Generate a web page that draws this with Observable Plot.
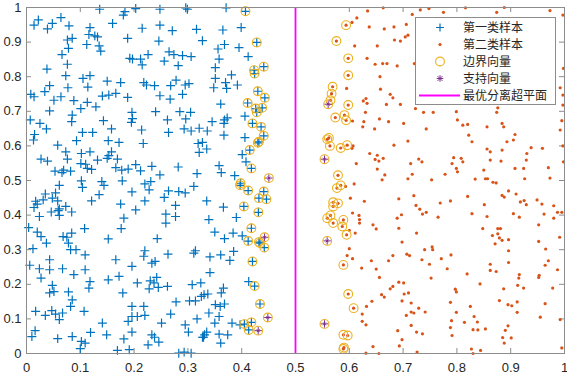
<!DOCTYPE html>
<html><head><meta charset="utf-8">
<script src="https://cdn.jsdelivr.net/npm/d3@7"></script>
<script src="https://cdn.jsdelivr.net/npm/@observablehq/plot@0.6"></script>
<style>
body{margin:0;background:#fff;}
#wrap{position:relative;width:567px;height:375px;overflow:hidden;}
#wrap svg.legend{position:absolute;left:0;top:0;}
</style></head><body><div id="wrap"></div>
<script>
// 第一类样本 (plain samples)
const class1Points = [
[.136,.995],[.183,.988],[.180,.978],[.203,.997],[.248,.995],[.296,.999],[.299,.995],[.022,.964],[.014,.949],[.048,.954],[.039,.938],[.064,.971],[.079,.947],[.118,.942],[.160,.954],[.215,.940],[.248,.949],[.271,.933],[.316,.937],[.076,.906],[.085,.911],[.116,.922],[.127,.918],[.132,.915],[.112,.893],[.188,.911],[.246,.903],[.327,.904],[.135,.889],[.138,.874],[.078,.882],[.066,.864],[.265,.872],[.274,.864],[.290,.861],[.306,.858],[.226,.864],[.192,.853],[.197,.851],[.212,.851],[.215,.834],[.256,.845],[.282,.832],[.076,.836],[.038,.822],[.073,.803],[.118,.803],[.105,.795],[.150,.787],[.175,.783],[.218,.783],[.223,.776],[.238,.774],[.268,.774],[.278,.790],[.295,.776],[.302,.780],[.043,.774],[.077,.768],[.114,.770],[.034,.757],[.008,.749],[.014,.742],[.064,.742],[.051,.732],[.141,.744],[.153,.747],[.166,.752],[.188,.740],[.248,.745],[.267,.735],[.290,.749],[.088,.731],[.113,.726],[.129,.713],[.101,.708],[.043,.701],[.085,.689],[.084,.670],[.196,.697],[.240,.699],[.285,.699],[.305,.697],[.197,.679],[.195,.668],[.262,.675],[.296,.678],[.143,.673],[.007,.675],[.025,.665],[.037,.649],[.158,.649],[.104,.639],[.123,.639],[.214,.646],[.264,.639],[.293,.649],[.306,.643],[.321,.651],[.015,.633],[.013,.617],[.093,.615],[.152,.615],[.172,.610],[.217,.607],[.319,.607],[.327,.610],[.058,.602],[.073,.583],[.102,.578],[.118,.583],[.158,.583],[.153,.572],[.321,.581],[.027,.562],[.039,.556],[.076,.562],[.132,.559],[.150,.564],[.169,.562],[.101,.549],[.110,.547],[.203,.546],[.233,.541],[.282,.539],[.053,.527],[.066,.523],[.069,.530],[.082,.527],[.113,.535],[.121,.532],[.166,.537],[.177,.530],[.189,.533],[.212,.528],[.248,.516],[.317,.520],
[.061,.486],[.102,.499],[.104,.480],[.140,.497],[.144,.486],[.178,.499],[.220,.490],[.231,.497],[.228,.473],[.196,.467],[.264,.470],[.283,.468],[.295,.464],[.311,.483],[.035,.461],[.031,.444],[.054,.464],[.058,.441],[.048,.449],[.017,.440],[.014,.422],[.020,.432],[.135,.459],[.121,.441],[.220,.441],[.256,.451],[.277,.428],[.175,.432],[.073,.425],[.061,.418],[.059,.413],[.046,.409],[.061,.399],[.084,.409],[.024,.396],[.203,.415],[.181,.391],[.259,.403],[.277,.396],[.259,.377],[.004,.364],[.108,.361],[.176,.361],[.020,.351],[.027,.338],[.037,.319],[.068,.338],[.075,.336],[.084,.348],[.078,.319],[.082,.300],[.092,.300],[.152,.331],[.243,.332],[.012,.303],[.109,.285],[.220,.297],[.218,.281],[.263,.287],[.314,.297],[.311,.290],[.043,.271],[.006,.255],[.024,.245],[.043,.242],[.067,.245],[.109,.242],[.166,.271],[.196,.252],[.233,.261],[.239,.266],[.027,.218],[.088,.228],[.118,.208],[.116,.189],[.152,.213],[.172,.223],[.206,.204],[.230,.210],[.242,.220],[.237,.204],[.228,.187],[.245,.191],[.262,.194],[.308,.199],[.324,.204],[.048,.197],[.043,.175],[.051,.179],[.078,.178],[.085,.155],[.082,.136],[.179,.175],[.278,.149],[.303,.152],[.314,.152],[.325,.165],[.017,.122],[.035,.110],[.047,.124],[.054,.114],[.067,.117],[.061,.098],[.107,.122],[.196,.136],[.218,.136],[.196,.107],[.189,.093],[.206,.107],[.220,.110],[.251,.088],[.268,.114],[.317,.100],[.295,.083],[.141,.088],[.016,.066],[.010,.049],[.058,.043],[.085,.049],[.102,.035],[.109,.030],[.100,.014],[.119,.061],[.149,.054],[.181,.042],[.196,.062],[.233,.054],[.238,.047],[.226,.025],[.246,.033],[.301,.062],[.327,.047],[.169,.009],[.191,.011],[.283,.001],[.293,.004],[.306,.001],
[.371,.999],[.365,.935],[.399,.942],[.368,.893],[.356,.880],[.395,.884],[.412,.858],[.358,.851],[.351,.826],[.381,.805],[.351,.795],[.370,.783],[.392,.776],[.348,.768],[.372,.766],[.361,.721],[.406,.686],[.373,.681],[.368,.675],[.345,.670],[.367,.665],[.336,.643],[.367,.631],[.406,.624],[.335,.591],[.401,.575],[.408,.554],[.358,.543],[.362,.523],[.387,.514],
[.335,.441],[.366,.423],[.339,.387],[.390,.393],[.350,.351],[.384,.348],[.401,.340],[.368,.332],[.385,.295],[.361,.285],[.341,.279],[.378,.269],[.341,.234],[.413,.208],[.366,.189],[.362,.175],[.330,.170],[.337,.172],[.351,.141],[.368,.143],[.360,.136],[.339,.117],[.358,.107],[.350,.088],[.382,.088],[.397,.083],[.335,.062],[.331,.054],[.329,.047],[.358,.056],[.374,.054],[.361,.030]
];
// 第一类样本中的边界向量
const class1Boundary = [
[.407,.989],[.428,.899],[.441,.829],[.423,.819],[.424,.809],[.430,.758],[.443,.739],[.411,.724],[.426,.708],[.438,.710],[.428,.697],[.420,.665],[.436,.655],[.441,.629],[.432,.612],[.430,.609],[.415,.588],[.418,.535],[.398,.492],[.397,.486],[.412,.471],[.441,.468],[.432,.449],[.446,.446],[.404,.425],[.431,.408],[.418,.362],[.412,.325],[.432,.322],[.434,.319],[.442,.306],[.420,.266],[.424,.195],[.434,.143],[.405,.085],[.418,.090],[.413,.068]
];
// 第二类样本 (plain samples)
const class2Points = [
[.634,.990],[.614,.970],[.605,.957],[.637,.944],[.665,.938],[.610,.889],[.652,.889],[.633,.853],[.648,.836],[.662,.838],[.657,.800],[.595,.766],[.658,.764],[.631,.737],[.626,.730],[.633,.723],[.630,.697],[.656,.678],[.606,.672],[.627,.670],[.625,.655],[.647,.649],[.607,.600],[.605,.593],[.638,.578],[.652,.573],[.648,.561],[.655,.556],[.663,.564],[.613,.549],[.652,.533],[.666,.516],
[.593,.483],[.609,.490],[.602,.449],[.628,.440],[.606,.406],[.618,.399],[.619,.387],[.619,.377],[.644,.372],[.650,.360],[.600,.356],[.611,.348],[.600,.303],[.596,.283],[.606,.274],[.641,.268],[.623,.247],[.650,.244],[.656,.220],[.660,.170],[.665,.163],[.642,.151],[.632,.136],[.624,.114],[.624,.093],[.631,.083],[.644,.020],[.631,.001],[.655,0],
[.663,.999],[.717,.980],[.732,.993],[.748,.997],[.775,.986],[.816,.999],[.874,.986],[.888,1.0],[.973,.991],[.997,.978],[.683,.944],[.706,.951],[.704,.915],[.709,.920],[.684,.906],[.695,.903],[.670,.838],[.689,.831],[.721,.838],[.676,.749],[.681,.739],[.695,.720],[.669,.720],[.980,.826],[.998,.824],[.992,.768],[.997,.747],[.997,.718],[.723,.708],[.738,.697],[.756,.697],[.799,.699],[.874,.697],[.876,.710],[.673,.670],[.701,.665],[.801,.675],[.811,.660],[.820,.662],[.856,.655],[.884,.665],[.887,.655],[.743,.649],[.995,.673],[.992,.646],[.822,.631],[.908,.633],[.893,.612],[.905,.617],[.709,.614],[.683,.602],[.856,.591],[.862,.583],[.828,.612],[.884,.588],[.938,.595],[.959,.593],[.930,.578],[.997,.600],[.729,.562],[.735,.554],[.794,.566],[.808,.564],[.811,.554],[.791,.549],[.862,.559],[.882,.556],[.929,.559],[.998,.554],[.714,.549],[.799,.535],[.801,.525],[.778,.518],[.850,.530],[.908,.535],[.970,.537],[.924,.535],[.717,.518],
[.661,.502],[.709,.505],[.753,.502],[.834,.504],[.853,.505],[.857,.505],[.867,.495],[.873,.493],[.926,.505],[.973,.507],[.896,.470],[.910,.461],[.884,.457],[.888,.452],[.820,.454],[.720,.456],[.692,.447],[.769,.435],[.788,.441],[.918,.438],[.925,.442],[.929,.430],[.949,.444],[.958,.432],[.980,.427],[.724,.428],[.731,.417],[.743,.408],[.736,.403],[.828,.404],[.851,.430],[.905,.404],[.916,.394],[.962,.403],[.987,.408],[.995,.408],[.697,.401],[.689,.391],[.765,.394],[.856,.396],[.980,.391],[.692,.362],[.848,.361],[.876,.361],[.881,.361],[.952,.372],[.725,.348],[.866,.341],[.876,.346],[.879,.334],[.884,.327],[.896,.329],[.871,.317],[.991,.336],[.952,.324],[.698,.322],[.754,.308],[.740,.300],[.755,.300],[.896,.297],[.965,.302],[.707,.287],[.712,.283],[.681,.283],[.673,.268],[.789,.285],[.771,.274],[.735,.271],[.749,.258],[.970,.268],[.964,.255],[.896,.263],[.862,.258],[.862,.240],[.873,.237],[.782,.245],[.987,.242],[.819,.230],[.916,.228],[.953,.226],[.952,.220],[.915,.218],[.752,.218],[.692,.206],[.701,.204],[.681,.194],[.676,.187],[.843,.201],[.913,.197],[.924,.189],[.887,.187],[.978,.189],[.797,.186],[.799,.178],[.702,.172],[.710,.175],[.698,.152],[.788,.148],[.825,.136],[.879,.153],[.715,.146],[.895,.141],[.902,.138],[.912,.149],[.964,.144],[.729,.131],[.741,.120],[.715,.120],[.720,.117],[.706,.110],[.799,.119],[.912,.119],[.832,.107],[.790,.095],[.838,.091],[.814,.090],[.715,.081],[.895,.080],[.992,.098],[.955,.105],[.690,.066],[.725,.062],[.736,.057],[.788,.075],[.830,.069],[.839,.068],[.853,.071],[.890,.067],[.791,.052],[.698,.040],[.885,.046],[.901,.045],[.888,.030],[.693,.022],[.827,.013],[.844,.009],[.830,0],[.726,.004],[.995,.016]
];
// 第二类样本中的边界向量
const class2Boundary = [
[.594,.949],[.576,.903],[.598,.853],[.598,.804],[.569,.771],[.567,.751],[.565,.732],[.598,.718],[.574,.682],[.591,.689],[.594,.674],[.559,.619],[.562,.623],[.564,.600],[.584,.594],[.596,.602],[.579,.515],[.577,.478],[.584,.486],[.570,.437],[.579,.434],[.570,.425],[.565,.399],[.559,.391],[.570,.377],[.589,.386],[.587,.367],[.595,.343],[.589,.256],[.598,.172],[.608,.131],[.589,.054],[.597,.052],[.590,.017],[.589,.013]
];
// 支持向量
const supportPoints = [
[.4505,.507],[.4425,.336],[.4486,.104],[.4307,.066],[.5607,.7205],[.5539,.5616],[.5589,.3255],[.5539,.0856]
];
// 最优分离超平面 x = 0.5
const hyperplaneX = [0.5];
const axisTicks = [0,0.1,0.2,0.3,0.4,0.5,0.6,0.7,0.8,0.9,1];
const legendLabels = ["第一类样本","第二类样本","边界向量","支持向量","最优分离超平面"];

const colors = {c1:"#0072BD", c2:"#D95319", boundary:"#EDB120", support:"#7E2F8E", plane:"#FF00FF"};

const class1 = class1Points.concat(class1Boundary);
const class2 = class2Points.concat(class2Boundary);
const boundary = class1Boundary.concat(class2Boundary, supportPoints);

const W = 567, H = 375, mL = 26, mR = 3, mT = 7, mB = 22;
const pw = W - mL - mR, ph = H - mT - mB;
const fmt = d => String(+d.toFixed(1));
const textColor = "#262626", frameColor = "#8c8c8c";
const X = d => d[0], Y = d => d[1];

const chart = Plot.plot({
  width: W, height: H, marginLeft: mL, marginRight: mR, marginTop: mT, marginBottom: mB,
  style: {fontFamily: "'Liberation Sans', Arial, sans-serif", fontSize: "13px", color: textColor, background: "#fff"},
  x: {domain: [0, 1]}, y: {domain: [0, 1]},
  marks: [
    Plot.ruleX(axisTicks, {stroke: frameColor, insetTop: ph - 5}),
    Plot.ruleX(axisTicks, {stroke: frameColor, insetBottom: ph - 5}),
    Plot.ruleY(axisTicks, {stroke: frameColor, insetRight: pw - 5}),
    Plot.ruleY(axisTicks, {stroke: frameColor, insetLeft: pw - 5}),
    Plot.axisX(axisTicks, {tickSize: 0, tickPadding: 9, tickFormat: fmt, label: null, fill: textColor}),
    Plot.axisY(axisTicks, {tickSize: 0, tickPadding: 5, tickFormat: fmt, label: null, fill: textColor}),
    Plot.dot(class1, {x: X, y: Y, symbol: "plus", r: 3, stroke: colors.c1, strokeWidth: 1.2}),
    Plot.dot(class2, {x: X, y: Y, fill: colors.c2, r: 1.6}),
    Plot.dot(boundary, {x: X, y: Y, r: 4.4, stroke: colors.boundary, strokeWidth: 1.1}),
    Plot.dot(supportPoints, {x: X, y: Y, symbol: "plus", r: 2.5, stroke: colors.support, strokeWidth: 1}),
    Plot.dot(supportPoints, {x: X, y: Y, symbol: "times", r: 1.4, stroke: colors.support, strokeWidth: 1}),
    Plot.ruleX(hyperplaneX, {stroke: colors.plane, strokeWidth: 1.8}),
    Plot.frame({stroke: frameColor})
  ]
});
const wrap = document.getElementById("wrap");
wrap.appendChild(chart);

// legend overlay (inside the axes, top-right)
const lg = d3.select(wrap).append("svg").attr("class", "legend")
  .attr("width", W).attr("height", H);
const lx = 415.5, ly = 17.5, lw = 140, lh = 87;
lg.append("rect").attr("x", lx).attr("y", ly).attr("width", lw).attr("height", lh)
  .attr("fill", "#fff").attr("stroke", frameColor);
const mx = 440, row0 = 27.5, rowStep = 17;
legendLabels.forEach((t, i) => {
  const cy = row0 + i * rowStep;
  const g = lg.append("g");
  if (i === 0) {
    g.append("path").attr("d", `M${mx-4},${cy}H${mx+4}M${mx},${cy-4}V${cy+4}`)
      .attr("stroke", colors.c1).attr("stroke-width", 1.2);
  } else if (i === 1) {
    g.append("circle").attr("cx", mx).attr("cy", cy).attr("r", 1.6).attr("fill", colors.c2);
  } else if (i === 2) {
    g.append("circle").attr("cx", mx).attr("cy", cy).attr("r", 4.4).attr("fill", "none")
      .attr("stroke", colors.boundary).attr("stroke-width", 1.1);
  } else if (i === 3) {
    g.append("path").attr("d", `M${mx-3.3},${cy}H${mx+3.3}M${mx},${cy-3.3}V${cy+3.3}M${mx-2.4},${cy-2.4}L${mx+2.4},${cy+2.4}M${mx-2.4},${cy+2.4}L${mx+2.4},${cy-2.4}`)
      .attr("stroke", colors.support).attr("stroke-width", 1);
  } else {
    g.append("line").attr("x1", 419).attr("x2", 460).attr("y1", cy).attr("y2", cy)
      .attr("stroke", colors.plane).attr("stroke-width", 1.8);
  }
  lg.append("text").attr("x", 463).attr("y", cy).attr("dy", "0.36em")
    .attr("font-family", "'Noto Sans CJK SC', sans-serif").attr("font-size", 12)
    .attr("fill", textColor).text(t);
});
</script></body></html>
